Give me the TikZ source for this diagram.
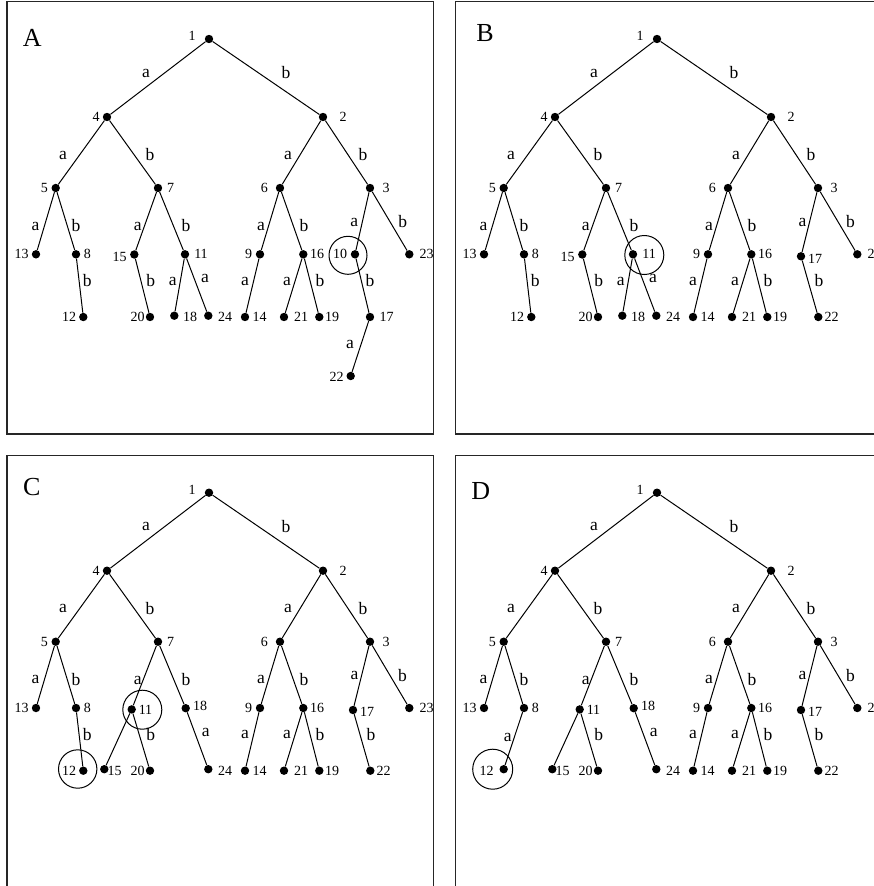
\documentclass[tikz,border=0pt]{standalone}
\usepackage{fontspec}
\setmainfont{Liberation Serif}
\tikzset{
  dot/.style={circle, fill=black, inner sep=0pt, minimum size=8.4pt},
  nlab/.style={font=\fontsize{14}{15}\selectfont, inner sep=0pt},
  elab/.style={font=\fontsize{17.5}{18}\selectfont, inner sep=0pt},
  plab/.style={font=\fontsize{26}{27}\selectfont, inner sep=0pt},
  ring/.style={circle, draw, line width=1pt, inner sep=0pt},
  edge/.style={line width=1pt},
  panel/.style={draw=black!85, line width=1.3pt}
}
\newcommand\vtx[4]{\node[dot] (#1) at (#2) {}; \node[nlab] (#1l) at (#3) {#4};}
\newcommand\edg[4]{\draw[edge] (#1) -- (#2); \node[elab] (#1-#2) at (#3) {#4};}
\newcommand\commontree{%
  \vtx{1}{209,39}{192,36}{1}
  \vtx{4}{107,117}{96,117}{4}
  \vtx{2}{323,117}{343,117}{2}
  \vtx{5}{55.7,188}{44.3,188}{5}
  \vtx{7}{158,188}{170.5,188}{7}
  \vtx{6}{280,188}{264.3,188}{6}
  \vtx{3}{370,188}{386,188}{3}
  \vtx{13}{36,254.3}{21.7,254.3}{13}
  \vtx{8}{76,254.3}{87.3,254.3}{8}
  \vtx{9}{260,254.3}{248.7,254.3}{9}
  \vtx{16}{303.3,254.3}{317,254.3}{16}
  \vtx{14}{245,317}{259.5,317}{14}
  \vtx{21}{284,317}{301,317}{21}
  \vtx{19}{319.3,317}{332,317}{19}
  \edg{1}{4}{146,73}{a}
  \edg{1}{2}{286,73}{b}
  \edg{4}{5}{63,155}{a}
  \edg{4}{7}{150,155}{b}
  \edg{2}{6}{288,155}{a}
  \edg{2}{3}{363,155}{b}
  \edg{5}{13}{35.5,226}{a}
  \edg{5}{8}{76,226}{b}
  \edg{6}{9}{261,226}{a}
  \edg{6}{16}{304,226}{b}
  \edg{9}{14}{245,281}{a}
  \edg{16}{21}{287,281}{a}
  \edg{16}{19}{320,281}{b}
}
\newcommand\leftAB{%
  \vtx{15}{134.3,254.5}{119.5,257}{15}
  \vtx{11}{185,254.3}{201,254.3}{11}
  \vtx{20}{150,317}{137.5,317}{20}
  \vtx{18}{174.3,315.7}{190,317}{18}
  \vtx{24}{208.3,315.7}{225,317}{24}
  \edg{7}{15}{137.7,226}{a}
  \edg{7}{11}{186,226}{b}
  \edg{15}{20}{150.7,281}{b}
  \edg{11}{18}{172.7,281}{a}
  \edg{11}{24}{205,278}{a}
}
\newcommand\leftCD{%
  \vtx{11}{131.7,255.7}{145.5,256}{11}
  \vtx{18}{185.7,254.5}{200,252}{18}
  \vtx{15}{104.3,315.5}{114.5,317}{15}
  \vtx{20}{150,317}{137.5,317}{20}
  \vtx{24}{208.3,315.5}{225,317}{24}
  \edg{7}{11}{137.7,226.3}{a}
  \edg{7}{18}{186,226.3}{b}
  \draw[edge] (11) -- (15);
  \edg{11}{20}{150.7,281.3}{b}
  \edg{18}{24}{205.7,279}{a}
}
\newcommand\twelveb{%
  \vtx{12}{83.3,317}{69,317}{12}
  \edg{8}{12}{87.3,281}{b}
}
\newcommand\rightBCD{%
  \vtx{17}{353,256.3}{367,258.5}{17}
  \vtx{23}{409.3,254.3}{426.7,254.3}{23}
  \vtx{22}{370.3,317}{383.5,317}{22}
  \edg{3}{17}{354.5,222}{a}
  \edg{3}{23}{402.5,222}{b}
  \edg{17}{22}{371,281}{b}
}
\begin{document}
\begin{tikzpicture}[x=1pt,y=-1pt]
\useasboundingbox (0,0) rectangle (874,886);
\clip (0,0) rectangle (874,886);
% panel frames
\path[panel] (7,1.5) rectangle (433.7,434);
\path[panel] (455.3,1.5) rectangle (900,434);
\path[panel] (7,455.7) rectangle (433.7,910);
\path[panel] (455.3,455.7) rectangle (900,910);
% panel A
\begin{scope}[name prefix=A-]
  \node[plab] (title) at (32.3,38.3) {A};
  \commontree
  \leftAB
  \twelveb
  \vtx{10}{355,254.3}{340,254.3}{10}
  \vtx{23}{409.3,254.3}{426.7,254.3}{23}
  \vtx{17}{370,317}{386.7,317}{17}
  \vtx{22}{350.7,376}{336.7,376.5}{22}
  \edg{3}{10}{354.3,222}{a}
  \edg{3}{23}{402.7,222}{b}
  \edg{10}{17}{370,281}{b}
  \edg{17}{22}{350,344.3}{a}
  \node[ring, minimum size=38pt] (mark) at (348,255.3) {};
\end{scope}
% panel B
\begin{scope}[shift={(448,0)}, name prefix=B-]
  \node[plab] (title) at (37,32.7) {B};
  \commontree
  \leftAB
  \twelveb
  \rightBCD
  \node[ring, minimum size=39pt] (mark) at (196.3,255) {};
\end{scope}
% panel C
\begin{scope}[shift={(0,453.7)}, name prefix=C-]
  \node[plab] (title) at (31.7,33.3) {C};
  \commontree
  \leftCD
  \twelveb
  \rightBCD
  \node[ring, minimum size=38.4pt] (mark1) at (77.7,315.3) {};
  \node[ring, minimum size=39pt] (mark2) at (142.3,256) {};
\end{scope}
% panel D
\begin{scope}[shift={(448,453.7)}, name prefix=D-]
  \node[plab] (title) at (32.7,37.5) {D};
  \commontree
  \leftCD
  \vtx{12}{55.7,315.5}{38.7,317}{12}
  \edg{8}{12}{59.7,283.8}{a}
  \rightBCD
  \node[ring, minimum size=40pt] (mark) at (44.7,315.5) {};
\end{scope}
\end{tikzpicture}
\end{document}
